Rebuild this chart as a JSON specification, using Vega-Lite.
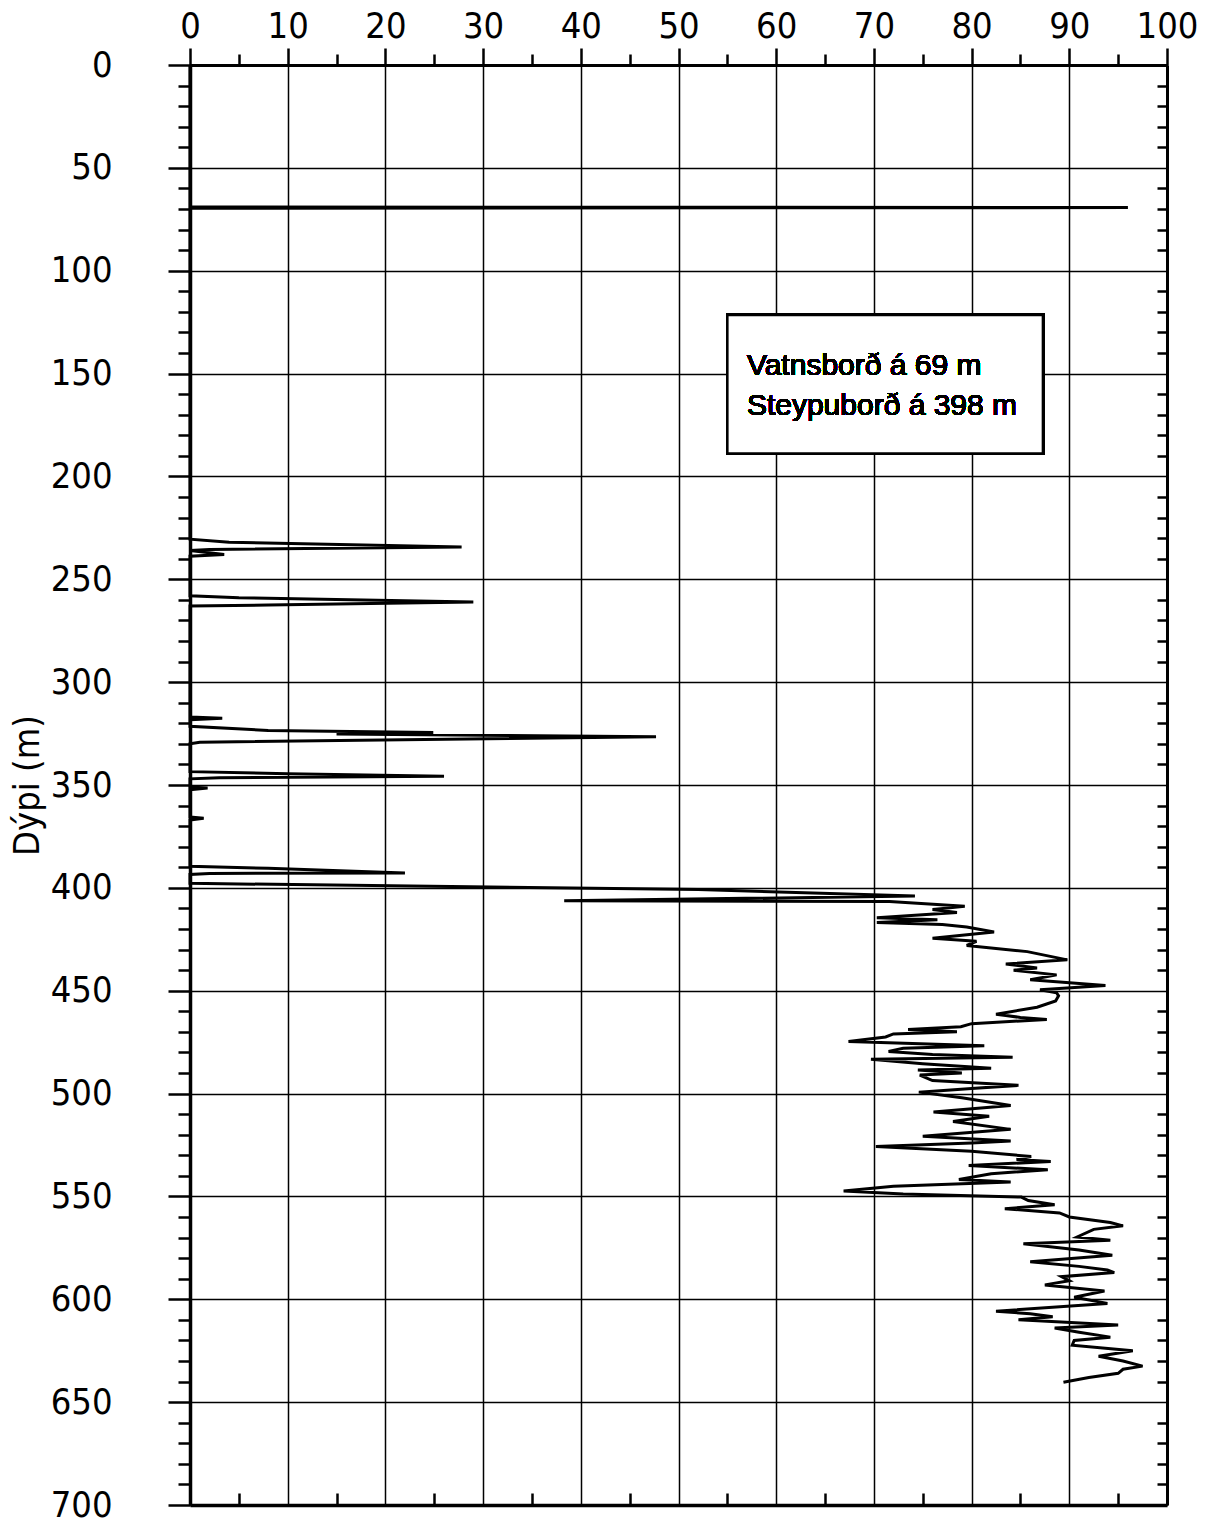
{
 "$schema": "https://vega.github.io/schema/vega-lite/v6.json",
 "width": 977, "height": 1440,
 "autosize": {"type": "none"},
 "padding": {"left": 190, "top": 65, "right": 54, "bottom": 18},
 "background": "white",
 "config": {"view": {"stroke": null},
   "axis": {"domainColor": "black", "tickColor": "black", "gridColor": "black", "gridOpacity": 1, "labelColor": "black", "titleColor": "black",
     "labelFont": "'DejaVu Sans Condensed', 'Liberation Sans', sans-serif", "titleFont": "'DejaVu Sans Condensed', 'Liberation Sans', sans-serif"}},
 "data": {"values": [
  {"i":1,"value":0,"depth":0},{"i":2,"value":0,"depth":69},{"i":3,"value":96,"depth":69.3},{"i":4,"value":0,"depth":69.6},
  {"i":5,"value":0,"depth":230.5},{"i":6,"value":4,"depth":232},{"i":7,"value":27.8,"depth":234.3},{"i":8,"value":2,"depth":235.5},{"i":9,"value":0,"depth":236},{"i":10,"value":3.5,"depth":238},{"i":11,"value":0,"depth":238.8},
  {"i":12,"value":0,"depth":258},{"i":13,"value":5,"depth":259},{"i":14,"value":29,"depth":261},{"i":15,"value":8,"depth":262.5},{"i":16,"value":0,"depth":263},
  {"i":17,"value":0,"depth":317},{"i":18,"value":3.3,"depth":317.6},{"i":19,"value":0,"depth":318.3},
  {"i":20,"value":0,"depth":321.5},{"i":21,"value":8,"depth":323.5},{"i":22,"value":24.9,"depth":324.5},{"i":23,"value":15,"depth":325.2},{"i":24,"value":47.7,"depth":326.6},{"i":25,"value":1,"depth":329.2},{"i":26,"value":0,"depth":330},
  {"i":27,"value":0,"depth":343.5},{"i":28,"value":10,"depth":344.5},{"i":29,"value":26,"depth":345.7},{"i":30,"value":3,"depth":346.5},{"i":31,"value":0,"depth":347},
  {"i":32,"value":0,"depth":351},{"i":33,"value":1.8,"depth":351.5},{"i":34,"value":0,"depth":352.3},
  {"i":35,"value":0,"depth":365.5},{"i":36,"value":1.4,"depth":366.2},{"i":37,"value":0,"depth":367},
  {"i":38,"value":0,"depth":389.5},{"i":39,"value":8,"depth":390.5},{"i":40,"value":22,"depth":392.8},{"i":41,"value":2,"depth":393},{"i":42,"value":0,"depth":393.5},
  {"i":43,"value":0,"depth":397.8},{"i":44,"value":52,"depth":400.8},{"i":45,"value":74.2,"depth":404},{"i":46,"value":38.3,"depth":406.3},{"i":47,"value":71.6,"depth":406.6},
  {"i":48,"value":79.3,"depth":409},{"i":49,"value":76,"depth":410.5},{"i":50,"value":78.5,"depth":412},{"i":51,"value":70.3,"depth":414.5},{"i":52,"value":76.5,"depth":415.5},
  {"i":53,"value":70.3,"depth":416.8},{"i":54,"value":77,"depth":417.8},{"i":55,"value":79.5,"depth":419},{"i":56,"value":82.3,"depth":421.5},{"i":57,"value":76,"depth":424.5},
  {"i":58,"value":80.5,"depth":426},{"i":59,"value":79.5,"depth":428},{"i":60,"value":85.7,"depth":431},{"i":61,"value":89.8,"depth":435},{"i":62,"value":83.5,"depth":437},
  {"i":63,"value":86.7,"depth":439},{"i":64,"value":84.3,"depth":440},{"i":65,"value":88.7,"depth":442.3},{"i":66,"value":86,"depth":444.7},{"i":67,"value":93.7,"depth":447.5},
  {"i":68,"value":87,"depth":449.5},{"i":69,"value":88.7,"depth":451},{"i":70,"value":88.9,"depth":452.5},{"i":71,"value":88.6,"depth":455},{"i":72,"value":86.7,"depth":458},
  {"i":73,"value":82.5,"depth":461.4},{"i":74,"value":85,"depth":463},{"i":75,"value":87.7,"depth":464},{"i":76,"value":80,"depth":466},{"i":77,"value":78.9,"depth":467.5},
  {"i":78,"value":73.5,"depth":468.8},{"i":79,"value":78.5,"depth":470},{"i":80,"value":72,"depth":471},{"i":81,"value":71.2,"depth":472.5},{"i":82,"value":67.4,"depth":474.7},
  {"i":83,"value":81.3,"depth":476.8},{"i":84,"value":73,"depth":478},{"i":85,"value":71.5,"depth":479.5},{"i":86,"value":76,"depth":481},{"i":87,"value":84.2,"depth":482.4},
  {"i":88,"value":69.7,"depth":483.3},{"i":89,"value":75,"depth":485.5},{"i":90,"value":82,"depth":487.7},{"i":91,"value":74.5,"depth":488.5},{"i":92,"value":79,"depth":490},
  {"i":93,"value":74.7,"depth":491},{"i":94,"value":76,"depth":493.7},{"i":95,"value":84.8,"depth":496},{"i":96,"value":80,"depth":497.5},{"i":97,"value":74.6,"depth":499.3},
  {"i":98,"value":79,"depth":502},{"i":99,"value":84,"depth":505.8},{"i":100,"value":76.1,"depth":509},{"i":101,"value":81.8,"depth":511},{"i":102,"value":78.1,"depth":513.6},
  {"i":103,"value":84,"depth":517.4},{"i":104,"value":75,"depth":520.7},{"i":105,"value":84,"depth":523},{"i":106,"value":80,"depth":524},{"i":107,"value":70.2,"depth":525.7},
  {"i":108,"value":80,"depth":528},{"i":109,"value":86.1,"depth":530.6},{"i":110,"value":84.6,"depth":532},{"i":111,"value":88.1,"depth":533},{"i":112,"value":79.7,"depth":535},
  {"i":113,"value":87.8,"depth":537},{"i":114,"value":82,"depth":539},{"i":115,"value":78.7,"depth":541.8},{"i":116,"value":84,"depth":543},{"i":117,"value":72,"depth":545},
  {"i":118,"value":66.9,"depth":547.4},{"i":119,"value":73,"depth":548.8},{"i":120,"value":85.1,"depth":550.3},{"i":121,"value":85.8,"depth":552},{"i":122,"value":88.5,"depth":554},
  {"i":123,"value":83.4,"depth":556},{"i":124,"value":89,"depth":558},{"i":125,"value":90,"depth":560},{"i":126,"value":94.2,"depth":562.7},{"i":127,"value":95.5,"depth":564.3},
  {"i":128,"value":92.5,"depth":566},{"i":129,"value":90.8,"depth":569.7},{"i":130,"value":94.2,"depth":571.3},{"i":131,"value":85.3,"depth":573},{"i":132,"value":91,"depth":576},
  {"i":133,"value":94.4,"depth":578.6},{"i":134,"value":86,"depth":581.8},{"i":135,"value":91,"depth":584},{"i":136,"value":93.9,"depth":585.8},{"i":137,"value":94.6,"depth":587},
  {"i":138,"value":89.2,"depth":589},{"i":139,"value":90,"depth":591},{"i":140,"value":87.5,"depth":593},{"i":141,"value":93.6,"depth":596},{"i":142,"value":90.5,"depth":599},
  {"i":143,"value":93.9,"depth":602},{"i":144,"value":82.5,"depth":605.8},{"i":145,"value":86,"depth":607},{"i":146,"value":88.3,"depth":608.5},{"i":147,"value":84.8,"depth":610},
  {"i":148,"value":95,"depth":612.5},{"i":149,"value":88.5,"depth":614},{"i":150,"value":91,"depth":616},{"i":151,"value":94.2,"depth":618.4},{"i":152,"value":90.5,"depth":620},
  {"i":153,"value":90.3,"depth":622.3},{"i":154,"value":96.5,"depth":625},{"i":155,"value":93,"depth":627.7},{"i":156,"value":95.5,"depth":630},{"i":157,"value":97.5,"depth":632.5},
  {"i":158,"value":95.5,"depth":634},{"i":159,"value":95,"depth":636},{"i":160,"value":92,"depth":638},{"i":161,"value":89.4,"depth":640.3}
 ]},
 "layer": [
  {"mark": {"type": "line", "color": "black", "strokeWidth": 3},
   "encoding": {
    "x": {"field": "value", "type": "quantitative", "scale": {"domain": [0, 100], "nice": false, "zero": false},
      "axis": {"orient": "top", "values": [0,10,20,30,40,50,60,70,80,90,100], "grid": true, "gridWidth": 1.5, "tickSize": 17, "tickWidth": 2.5, "domainWidth": 3, "labelFontSize": 36, "labelPadding": 3, "labelFlush": false, "title": null}},
    "y": {"field": "depth", "type": "quantitative", "scale": {"domain": [0, 700], "reverse": true, "nice": false, "zero": false},
      "axis": {"orient": "left", "values": [0,50,100,150,200,250,300,350,400,450,500,550,600,650,700], "grid": true, "gridWidth": 1.5, "tickSize": 22, "tickWidth": 2.5, "domainWidth": 3.5, "labelFontSize": 36, "labelPadding": 56, "labelFlush": false, "title": "Dýpi (m)", "titleFontSize": 36, "titleFontWeight": "normal", "titlePadding": 4}},
    "order": {"field": "i", "type": "quantitative"}
   }},
  {"mark": {"type": "point", "opacity": 0},
   "encoding": {
    "x": {"field": "value", "type": "quantitative", "axis": {"orient": "top", "values": [5,15,25,35,45,55,65,75,85,95], "tickSize": 11, "tickWidth": 2.5, "labels": false, "domain": false, "grid": false, "title": null}},
    "y": {"field": "depth", "type": "quantitative", "axis": {"orient": "left", "values": [10,20,30,40,60,70,80,90,110,120,130,140,160,170,180,190,210,220,230,240,260,270,280,290,310,320,330,340,360,370,380,390,410,420,430,440,460,470,480,490,510,520,530,540,560,570,580,590,610,620,630,640,660,670,680,690], "tickSize": 12, "tickWidth": 2.5, "labels": false, "domain": false, "grid": false, "title": null}}
   }},
  {"mark": {"type": "point", "opacity": 0},
   "encoding": {
    "x": {"field": "value", "type": "quantitative", "axis": {"orient": "bottom", "values": [5,15,25,35,45,55,65,75,85,95], "tickSize": -12, "tickWidth": 2.5, "labels": false, "domain": true, "domainWidth": 3.5, "grid": false, "title": null}},
    "y": {"field": "depth", "type": "quantitative", "axis": {"orient": "right", "values": [10,20,30,40,60,70,80,90,110,120,130,140,160,170,180,190,210,220,230,240,260,270,280,290,310,320,330,340,360,370,380,390,410,420,430,440,460,470,480,490,510,520,530,540,560,570,580,590,610,620,630,640,660,670,680,690], "tickSize": -10, "tickWidth": 2.5, "labels": false, "domain": true, "domainWidth": 3, "grid": false, "title": null}}
   }},
  {"mark": {"type": "rect", "fill": "white", "stroke": "black", "strokeWidth": 2.5},
   "encoding": {
    "x": {"datum": 55, "type": "quantitative", "axis": null}, "x2": {"datum": 87.3},
    "y": {"datum": 121.5, "type": "quantitative", "axis": null}, "y2": {"datum": 188.8}
   }},
  {"mark": {"type": "text", "align": "left", "baseline": "alphabetic", "font": "Liberation Sans", "fontSize": 30, "color": "black"},
   "encoding": {
    "x": {"datum": 57, "type": "quantitative", "axis": null},
    "y": {"datum": 150.7, "type": "quantitative", "axis": null},
    "text": {"value": "Vatnsborð á 69 m"}
   }},
  {"mark": {"type": "text", "align": "left", "baseline": "alphabetic", "font": "Liberation Sans", "fontSize": 30, "color": "black"},
   "encoding": {
    "x": {"datum": 57, "type": "quantitative", "axis": null},
    "y": {"datum": 170.2, "type": "quantitative", "axis": null},
    "text": {"value": "Steypuborð á 398 m"}
   }}
 ],
 "resolve": {"axis": {"x": "independent", "y": "independent"}}
}
